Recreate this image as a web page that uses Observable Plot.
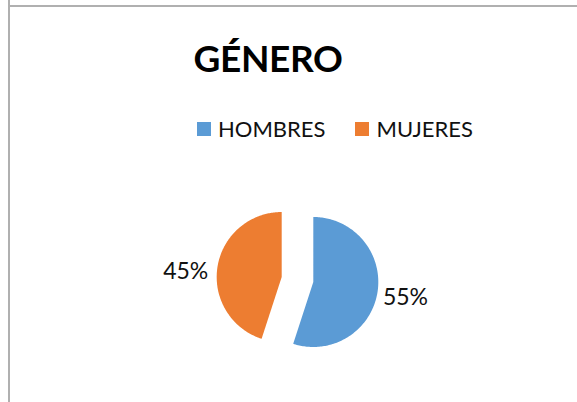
<!DOCTYPE html>
<html>
<head>
<meta charset="utf-8">
<script src="https://cdn.jsdelivr.net/npm/d3@7"></script>
<script src="https://cdn.jsdelivr.net/npm/@observablehq/plot@0.6"></script>
<style>
  html, body { margin: 0; padding: 0; background: #fff; }
  body { width: 577px; height: 402px; overflow: hidden; position: relative; font-family: Lato, "Open Sans", sans-serif; }
  .frame-left { position: absolute; left: 8px; top: 0; width: 2px; height: 402px; background: #b0b0b0; }
  .frame-top { position: absolute; left: 10px; top: 5px; width: 567px; height: 2px; background: #b0b0b0; }
  #header { position: relative; height: 150px; }
  #title { position: absolute; left: 0; width: 536px; top: 39px; text-align: center; font-weight: 700; font-size: 37px; letter-spacing: -0.4px; line-height: 1; color: #000; }
  #legend { position: absolute; left: 197px; top: 118px; display: flex; align-items: center; font-size: 22px; line-height: 1; color: #111; }
  .sw { width: 14px; height: 14px; margin-right: 7px; }
  .item { display: flex; align-items: center; margin-right: 30px; }
  #chart { position: relative; }
</style>
</head>
<body>
<div class="frame-left"></div>
<div class="frame-top"></div>
<div id="header">
  <div id="title"></div>
  <div id="legend"></div>
</div>
<div id="chart"></div>
<script>
const title = "GÉNERO";
const categories = ["HOMBRES", "MUJERES"];
const values = [55, 45];
const labels = ["55%", "45%"];
const colors = ["#5B9BD5", "#ED7D31"];

// layout constants (pixels)
const W = 577, H = 252, CX = 297, CY = 129, R = 65, EXPLODE = 16;

document.getElementById("title").textContent = title;
const legend = document.getElementById("legend");
categories.forEach((c, i) => {
  const item = document.createElement("div");
  item.className = "item";
  const sw = document.createElement("div");
  sw.className = "sw";
  sw.style.background = colors[i];
  const t = document.createElement("span");
  t.textContent = c;
  item.appendChild(sw); item.appendChild(t);
  legend.appendChild(item);
});

const arcs = d3.pie().sort(null).value(d => d)(values);
const ex = EXPLODE / R;
const slicePts = [];
const labelPts = [];
arcs.forEach((a, i) => {
  const mid = (a.startAngle + a.endAngle) / 2;
  const ox = ex * Math.sin(mid), oy = ex * Math.cos(mid);
  slicePts.push({cat: categories[i], x: ox, y: oy});
  const n = 180;
  for (let k = 0; k <= n; k++) {
    const t = a.startAngle + (a.endAngle - a.startAngle) * k / n;
    slicePts.push({cat: categories[i], x: ox + Math.sin(t), y: oy + Math.cos(t)});
  }
  const right = Math.sin(mid) >= 0;
  const lr = right ? 1.33 : 1.39;
  labelPts.push({cat: categories[i], label: labels[i], x: lr * Math.sin(mid), y: lr * Math.cos(mid), right});
});

const chart = Plot.plot({
  width: W,
  height: H,
  margin: 0,
  style: {background: "transparent", overflow: "visible"},
  x: {domain: [-CX / R, (W - CX) / R], axis: null},
  y: {domain: [-(H - CY) / R, CY / R], axis: null},
  color: {domain: categories, range: colors},
  marks: [
    Plot.line(slicePts, {x: "x", y: "y", z: "cat", fill: "cat", stroke: "none", curve: "linear"}),
    Plot.text(labelPts.filter(d => d.right), {x: "x", y: "y", text: "label", textAnchor: "start", dy: 5, fontSize: 23, fill: "#111", fontFamily: "Lato, sans-serif"}),
    Plot.text(labelPts.filter(d => !d.right), {x: "x", y: "y", text: "label", textAnchor: "end", dy: 6, fontSize: 23, fill: "#111", fontFamily: "Lato, sans-serif"})
  ]
});
document.getElementById("chart").appendChild(chart);
</script>
</body>
</html>
